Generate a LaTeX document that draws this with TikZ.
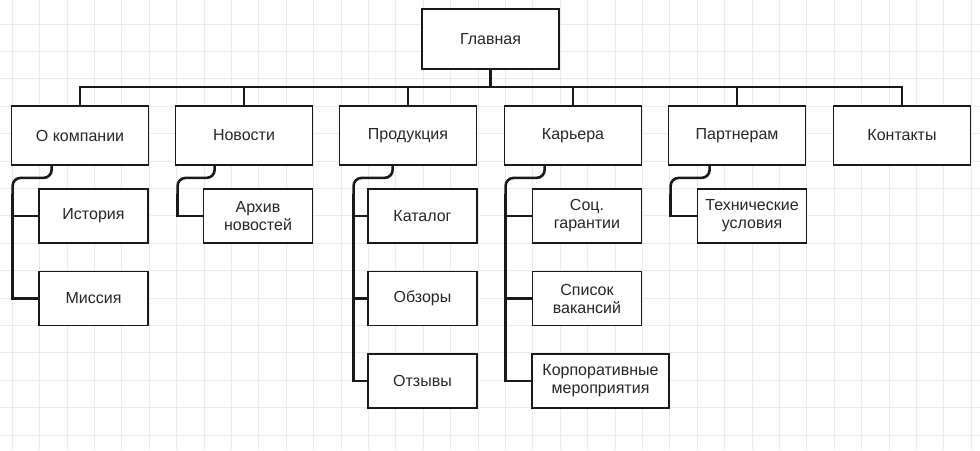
\documentclass[tikz,border=0pt]{standalone}
\usepackage{fontspec}
\setmainfont{Liberation Sans}
\usetikzlibrary{calc}

\begin{document}
\begin{tikzpicture}[x=1pt, y=-1pt,
    blok/.style={draw=black!90, line width=1.8pt, fill=white, rectangle, inner sep=0pt,
        align=center, text=black!85, font=\fontsize{16}{18}\selectfont},
    razdel/.style={blok, minimum width=137pt, minimum height=59pt},
    podrazdel/.style={blok, minimum width=109pt, minimum height=54pt},
    svyaz/.style={draw=black!90, line width=2.6pt}]

        % Фон и сетка
        \useasboundingbox (0,0) rectangle (980,450);
        \fill[white] (0,0) rectangle (980,450);
        \foreach \gx in {12,39.4,...,980}
            \draw[black!8, line width=0.6pt] (\gx,0) -- (\gx,450);
        \foreach \gy in {23.8,51.2,...,450}
            \draw[black!8, line width=0.6pt] (0,\gy) -- (980,\gy);

        % Главная страница
        \node[blok, minimum width=137pt, minimum height=60pt] (glav) at (490.5,39) {Главная};

        % Разделы первого уровня
        \node[razdel] (okomp)   at (80,135.5)  {О компании};
        \node[razdel] (novosti) at (244,135.5) {Новости};
        \node[razdel] (produkt) at (408,135.5) {Продукция};
        \node[razdel] (karera)  at (573,135.5) {Карьера};
        \node[razdel] (partner) at (737,135.5) {Партнерам};
        \node[razdel] (kontakt) at (902,135.5) {Контакты};

        % Подразделы
        \node[podrazdel] (istoriya) at (93.5,216)   {История};
        \node[podrazdel] (missiya)  at (93.5,298.5) {Миссия};
        \node[podrazdel] (arhiv)    at (258,216)    {Архив\\новостей};
        \node[podrazdel] (katalog)  at (422.5,216)  {Каталог};
        \node[podrazdel] (obzory)   at (422.5,298.5) {Обзоры};
        \node[podrazdel] (otzyvy)   at (422.5,381)  {Отзывы};
        \node[podrazdel] (soc)      at (587,216)    {Соц.\\гарантии};
        \node[podrazdel] (spisok)   at (587,298.5)  {Список\\вакансий};
        \node[podrazdel, minimum width=137pt] (korp) at (600.5,381) {Корпоративные\\мероприятия};
        \node[podrazdel] (tehn)     at (752,216)    {Технические\\условия};

        % Шина от главной
        \foreach \r in {okomp,novosti,produkt,karera,partner,kontakt}
            \draw[svyaz] (glav.south) -- ++(0,17) -| (\r.north);

        % О компании
        \coordinate (okompT) at ($(okomp.south west)+(2,28)$);
        \draw[svyaz, rounded corners=8pt] ($(okomp.south west)+(41,0)$) |- ++(-39,12) -- (okompT);
        \draw[svyaz] (okompT) |- (missiya.west);
        \draw[svyaz] (okompT |- istoriya.west) -- (istoriya.west);

        % Новости
        \coordinate (novostiT) at ($(novosti.south west)+(3,28)$);
        \draw[svyaz, rounded corners=8pt] ($(novosti.south west)+(40,0)$) |- ++(-37,12) -- (novostiT);
        \draw[svyaz] (novostiT) |- (arhiv.west);

        % Продукция
        \coordinate (produktT) at ($(produkt.south west)+(15,28)$);
        \draw[svyaz, rounded corners=8pt] ($(produkt.south west)+(54,0)$) |- ++(-39,12) -- (produktT);
        \draw[svyaz] (produktT) |- (otzyvy.west);
        \draw[svyaz] (produktT |- katalog.west) -- (katalog.west);
        \draw[svyaz] (produktT |- obzory.west) -- (obzory.west);

        % Карьера
        \coordinate (kareraT) at ($(karera.south west)+(2,28)$);
        \draw[svyaz, rounded corners=8pt] ($(karera.south west)+(41,0)$) |- ++(-39,12) -- (kareraT);
        \draw[svyaz] (kareraT) |- (korp.west);
        \draw[svyaz] (kareraT |- soc.west) -- (soc.west);
        \draw[svyaz] (kareraT |- spisok.west) -- (spisok.west);

        % Партнерам
        \coordinate (partnerT) at ($(partner.south west)+(3,28)$);
        \draw[svyaz, rounded corners=8pt] ($(partner.south west)+(42,0)$) |- ++(-39,12) -- (partnerT);
        \draw[svyaz] (partnerT) |- (tehn.west);

\end{tikzpicture}
\end{document}
